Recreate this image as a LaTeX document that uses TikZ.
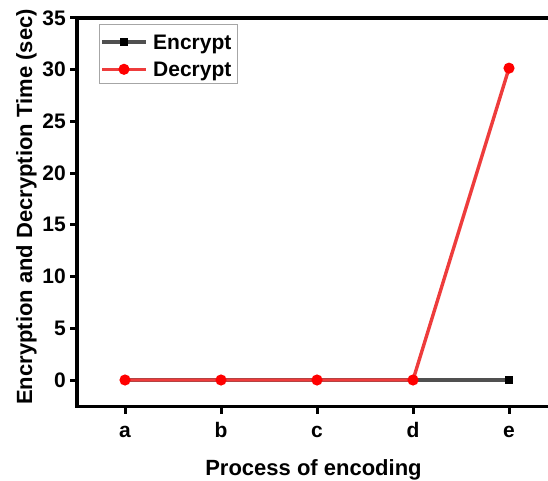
\documentclass[tikz,border=0pt]{standalone}
\usepackage{fontspec}
\setmainfont{Liberation Sans}
\definecolor{encgray}{RGB}{80,80,80}
\definecolor{decred}{RGB}{238,60,60}
\definecolor{mkred}{RGB}{255,0,0}
\begin{document}
\begin{tikzpicture}[x=1pt,y=1pt,
  axis/.style={line width=3.4pt,black},
  tickline/.style={line width=3pt,black},
  ticklab/.style={font=\fontsize{21}{21}\selectfont\bfseries,inner sep=0pt},
  axlab/.style={font=\fontsize{22}{22}\selectfont\bfseries,inner sep=0pt},
  encline/.style={line width=3.4pt,encgray},
  decline/.style={line width=3.4pt,decred},
  sqmark/.style={fill=black,draw=none},
  cimark/.style={fill=mkred,draw=none}]
\useasboundingbox (0,0) rectangle (548,480);
\clip (0,0) rectangle (548,480);
% axes
\draw[axis] (77,73.5) -- (77,462) -- (560,462);
\draw[axis] (75.3,73.5) -- (560,73.5);
% y ticks and labels
\foreach \v/\lab [count=\k from 0] in {0/0,5/5,10/10,15/15,20/20,25/25,30/30,35/35}{
  \draw[tickline] (70,{100+10.343*\v}) -- (77,{100+10.343*\v});
  \node[ticklab,anchor=east] (yl\k) at (66,{100+10.343*\v}) {\lab};
}
% x ticks and labels
\foreach \lab [count=\i] in {a,b,c,d,e}{
  \draw[tickline] ({29+96*\i},73.5) -- ({29+96*\i},66);
  \node[ticklab,anchor=base] (xl\i) at ({29+96*\i},43) {\lab};
}
% axis titles
\node[axlab,anchor=base] (xtitle) at (313.5,5) {Process of encoding};
\node[axlab,anchor=base,rotate=90] (ytitle) at (32,273) {Encryption and Decryption Time (sec)};
% data points
\coordinate (ea) at (125,100);
\coordinate (eb) at (221,100);
\coordinate (ec) at (317,100);
\coordinate (ed) at (413,100);
\coordinate (ee) at (509,100);
\coordinate (da) at (125,100);
\coordinate (db) at (221,100);
\coordinate (dc) at (317,100);
\coordinate (dd) at (413,100);
\coordinate (de) at (509,{100+10.343*30.15});
% Encrypt
\draw[encline] (ea) -- (eb) -- (ec) -- (ed) -- (ee);
\foreach \p in {ea,eb,ec,ed,ee}{
  \fill[sqmark] ([shift={(-4.3,-4.3)}]\p) rectangle ([shift={(4.3,4.3)}]\p);
}
% Decrypt
\draw[decline] (da) -- (db) -- (dc) -- (dd) -- (de);
\foreach \p in {da,db,dc,dd,de}{
  \fill[cimark] (\p) circle (5.6);
}
% legend
\draw[gray!70,line width=1pt] (99,455) rectangle (237,396);
\coordinate (l1a) at (102,438);
\coordinate (l1b) at (146,438);
\coordinate (l1m) at (124,438);
\draw[encline] (l1a) -- (l1b);
\fill[sqmark] ([shift={(-4.3,-4.3)}]l1m) rectangle ([shift={(4.3,4.3)}]l1m);
\node[ticklab,anchor=base west] (leg1) at (153,430) {Encrypt};
\coordinate (l2a) at (102,410.7);
\coordinate (l2b) at (146,410.7);
\coordinate (l2m) at (124,410.7);
\draw[decline] (l2a) -- (l2b);
\fill[cimark] (l2m) circle (5.6);
\node[ticklab,anchor=base west] (leg2) at (153,403) {Decrypt};
\end{tikzpicture}
\end{document}
